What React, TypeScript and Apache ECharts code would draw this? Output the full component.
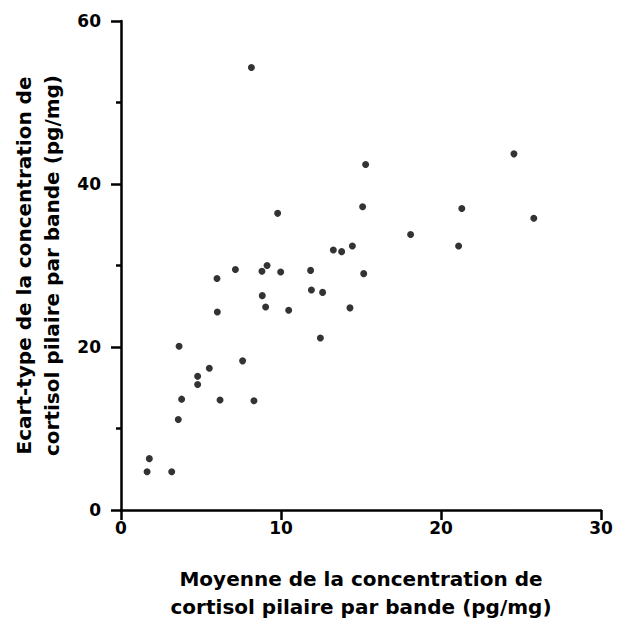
import React, { useEffect, useRef } from "react";
import * as echarts from "echarts";

const meanValues = [
  1.63, 1.77, 3.17, 3.58, 3.79, 3.63, 4.79, 4.79, 5.52, 6.19, 6.02, 6.0, 7.15, 7.6, 8.31,
  8.81, 9.13, 8.83, 9.04, 9.98, 10.48, 11.85, 11.9, 12.6, 12.46, 13.27, 13.79, 14.46, 14.31,
  8.15, 9.79, 15.29, 15.1, 18.1, 21.3, 21.1, 24.56, 25.8, 15.17,
];
const sdValues = [
  4.7, 6.3, 4.7, 11.1, 13.6, 20.1, 16.4, 15.4, 17.4, 13.5, 24.3, 28.4, 29.5, 18.3, 13.4,
  29.3, 30.0, 26.3, 24.9, 29.2, 24.5, 29.4, 27.0, 26.7, 21.1, 31.9, 31.7, 32.4, 24.8,
  54.3, 36.4, 42.4, 37.2, 33.8, 37.0, 32.4, 43.7, 35.8, 29.0,
];
const xTicks = [0, 10, 20, 30];
const yTicks = [0, 20, 40, 60];
const xTitle = "Moyenne de la concentration de\ncortisol pilaire par bande (pg/mg)";
const yTitle = "Ecart-type de la concentration de\ncortisol pilaire par bande (pg/mg)";

export default function App() {
  const ref = useRef<HTMLDivElement>(null);
  useEffect(() => {
    if (!ref.current) return;
    const chart = echarts.init(ref.current, undefined, { renderer: "svg" });
    const font = "'DejaVu Sans', 'Liberation Sans', Arial, sans-serif";
    const axisCommon = {
      axisLine: { show: true, lineStyle: { color: "#000", width: 2.5 } },
      axisTick: { show: true, inside: false, length: 10, lineStyle: { color: "#000", width: 2.5 } },
      splitLine: { show: false },
      axisLabel: { color: "#000", fontFamily: font, fontWeight: "bold", fontSize: 17 },
      nameTextStyle: { color: "#000", fontFamily: font, fontWeight: "bold", fontSize: 20, lineHeight: 28 },
    };
    chart.setOption({
      animation: false,
      backgroundColor: "#fff",
      grid: {
        left: 121,
        right: 28,
        top: 21,
        bottom: 113,
        containLabel: false,
        outerBoundsMode: "none",
      },
      xAxis: {
        type: "value",
        min: xTicks[0],
        max: xTicks[xTicks.length - 1],
        interval: 10,
        name: xTitle,
        nameLocation: "middle",
        nameGap: 55,
        ...axisCommon,
        axisLabel: { ...axisCommon.axisLabel, margin: 9 },
      },
      yAxis: {
        type: "value",
        min: yTicks[0],
        max: yTicks[yTicks.length - 1],
        interval: 20,
        name: yTitle,
        nameLocation: "middle",
        nameGap: 53,
        ...axisCommon,
        axisLabel: { ...axisCommon.axisLabel, margin: 20 },
        minorTick: { show: true, splitNumber: 2, length: 5, lineStyle: { color: "#000", width: 2.5 } },
        minorSplitLine: { show: false },
      },
      series: [
        {
          type: "scatter",
          symbol: "circle",
          symbolSize: 7,
          itemStyle: { color: "#000" },
          data: meanValues.map((x, i) => [x, sdValues[i]]),
        },
      ],
    });
    return () => chart.dispose();
  }, []);
  return (
    <div
      ref={ref}
      style={{ position: "absolute", left: 0, top: 0, width: 629, height: 623, background: "#fff" }}
    />
  );
}
